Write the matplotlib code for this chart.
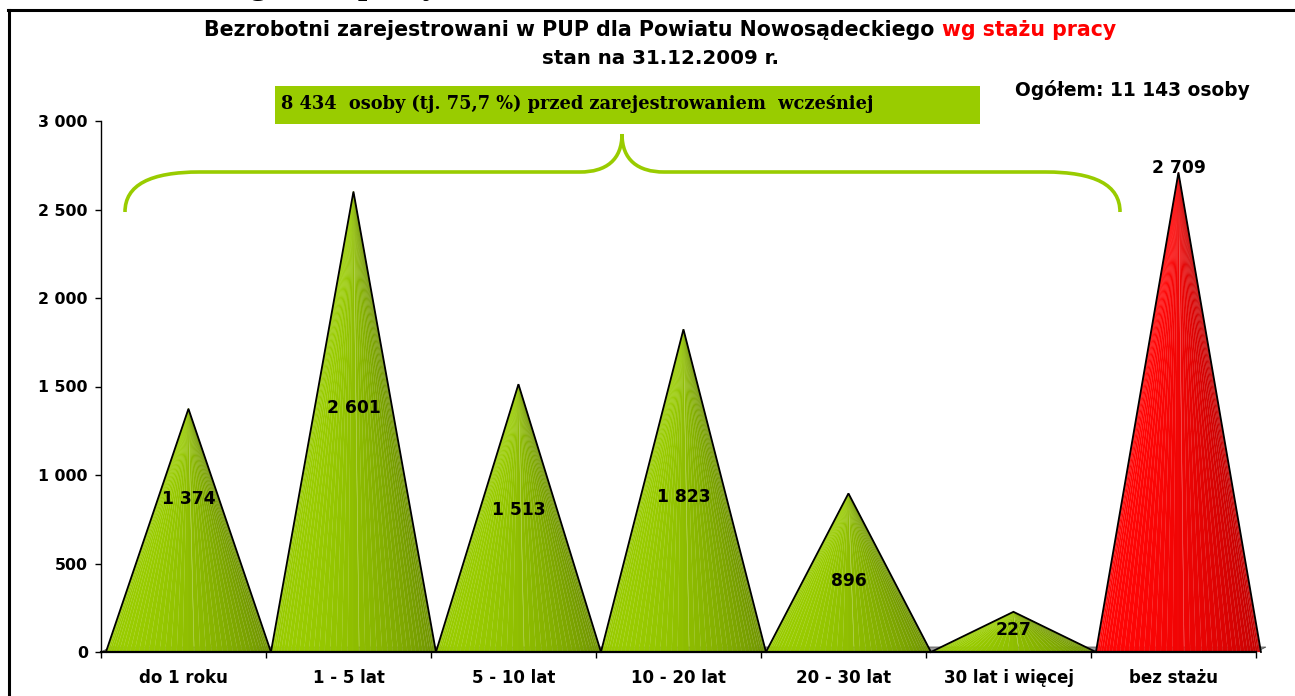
import matplotlib
matplotlib.use("Agg")
import matplotlib.pyplot as plt
import numpy as np
from matplotlib.patches import Polygon, PathPatch, Rectangle
from matplotlib.path import Path
from matplotlib.lines import Line2D

# ---------------- data ----------------
categories = ["do 1 roku", "1 - 5 lat", "5 - 10 lat", "10 - 20 lat",
              "20 - 30 lat", "30 lat i więcej", "bez stażu"]
values = [1374, 2601, 1513, 1823, 896, 227, 2709]
highlight = [False, False, False, False, False, False, True]
y_ticks = [0, 500, 1000, 1500, 2000, 2500, 3000]
title_black = "Bezrobotni zarejestrowani w PUP dla Powiatu Nowosądeckiego "
title_red = "wg stażu pracy"
subtitle = "stan na 31.12.2009 r."
total_text = "Ogółem: 11 143 osoby"
box_text = "8 434  osoby (tj. 75,7 %) przed zarejestrowaniem  wcześniej"
heading_text = "wg stażu pracy"

# ---------------- layout / style ----------------
W, H = 1295, 696
fig = plt.figure(figsize=(W / 100, H / 100), dpi=100)
fig.patch.set_facecolor("white")

def fx(x):
    return x / W

def fy(y):
    return 1 - y / H

SANS = "DejaVu Sans"
SERIF = "DejaVu Serif"
GREEN = "#99CC00"

label_frac = [0.63, 0.53, 0.53, 0.48, 0.45, 0.55, None]

ax = fig.add_axes([fx(101), fy(652), (1256 - 101) / W, (652 - 121) / H])
ax.set_xlim(0, len(categories))
ax.set_ylim(0, 3000)
ax.patch.set_alpha(0)
for s in ["top", "right"]:
    ax.spines[s].set_visible(False)
ax.spines["left"].set_linewidth(1.0)
ax.spines["bottom"].set_linewidth(1.6)
ax.spines["left"].set_zorder(5)
ax.spines["bottom"].set_zorder(5)

ax.set_yticks(y_ticks)
ax.set_yticklabels([f"{t:,}".replace(",", " ") for t in y_ticks],
                   fontfamily=SANS, fontweight="bold", fontsize=11.3)
ax.set_xticks(np.arange(len(categories) + 1))
ax.set_xticklabels([])
ax.set_xticks(np.arange(len(categories)) + 0.5, minor=True)
ax.set_xticklabels(categories, minor=True, fontfamily=SANS,
                   fontweight="bold", fontsize=12)
ax.tick_params(axis="both", which="major", length=4.5, width=1.0,
               direction="out", color="black")
ax.tick_params(axis="y", pad=5)
ax.tick_params(axis="x", which="minor", length=0, pad=12)

# floor (3D base)
dx, dy = 0.06, 28
floor = Polygon([(0, 0), (len(categories), 0), (len(categories) + dx, dy), (dx, dy)],
                closed=True, facecolor="#9a9a9a", edgecolor="#555555", lw=0.6,
                zorder=1, clip_on=False)
ax.add_patch(floor)

def draw_cone(xc, h, half, light, dark, n=44):
    phis = np.linspace(np.pi, 0, n + 1)
    xs = xc + half * np.cos(phis)
    Ld = np.array([-0.8, 0.6])
    light = np.array(light)
    dark = np.array(dark)
    for k in range(n):
        phi = 0.5 * (phis[k] + phis[k + 1])
        nrm = np.array([np.cos(phi), np.sin(phi)])
        b = 0.5 + 0.5 * float(np.dot(nrm, Ld))
        col = dark + (light - dark) * b
        edge = col + (1 - col) * 0.10
        ax.add_patch(Polygon([(xc, h), (xs[k], 0), (xs[k + 1], 0)], closed=True,
                             facecolor=col, edgecolor=edge, lw=0.2,
                             zorder=2, clip_on=False))
    ax.plot([xc - half, xc, xc + half], [0, h, 0], color="black", lw=1.3,
            zorder=2.5, clip_on=False, solid_joinstyle="miter")

offset = 0.03
for i, (v, red) in enumerate(zip(values, highlight)):
    xc = i + 0.5 + offset
    if red:
        draw_cone(xc, v, 0.5, (1.0, 0.02, 0.02), (0.72, 0.0, 0.0))
    else:
        draw_cone(xc, v, 0.5, (0.60, 0.80, 0.0), (0.40, 0.53, 0.0))
    lbl = f"{v:,}".replace(",", " ")
    fr = label_frac[i]
    if fr is None:
        ax.annotate(lbl, (xc, v), xytext=(0, 3), textcoords="offset points",
                    ha="center", va="center", fontfamily=SANS, fontweight="bold",
                    fontsize=12.3, zorder=6)
    else:
        ax.text(xc, v * fr, lbl, ha="center", va="center", fontfamily=SANS,
                fontweight="bold", fontsize=12.3, zorder=6)

# ---------------- frame ----------------
fig.add_artist(Line2D([fx(8), 1.0], [fy(10), fy(10)], transform=fig.transFigure,
                      color="black", lw=2.2))
fig.add_artist(Line2D([fx(9), fx(9)], [fy(10), 0.0], transform=fig.transFigure,
                      color="black", lw=2.2))

# heading above the frame, cropped by the picture edge as in the reference
fig.text(fx(226), fy(-6), heading_text, fontfamily="Liberation Serif",
         fontweight="bold", fontsize=24, va="baseline", ha="left")

# ---------------- titles ----------------
renderer = fig.canvas.get_renderer()
tb = fig.text(0, fy(30), title_black, fontfamily=SANS, fontweight="bold",
              fontsize=14.8, va="center", ha="left", color="black")
tr = fig.text(0, fy(30), title_red, fontfamily=SANS, fontweight="bold",
              fontsize=14.8, va="center", ha="left", color="#FF0000")
wb = tb.get_window_extent(renderer).width
wr = tr.get_window_extent(renderer).width
start = 660 - (wb + wr) / 2
tb.set_x(fx(start))
tr.set_x(fx(start + wb))

fig.text(fx(660), fy(58), subtitle, fontfamily=SANS, fontweight="bold",
         fontsize=14.3, va="center", ha="center")
fig.text(fx(1250), fy(90), total_text, fontfamily=SANS, fontweight="bold",
         fontsize=13.4, va="center", ha="right")

# green box with text
fig.add_artist(Rectangle((fx(275), fy(124)), (980 - 275) / W, (124 - 86) / H,
                         transform=fig.transFigure, facecolor=GREEN,
                         edgecolor="none"))
fig.text(fx(281), fy(104), box_text, fontfamily=SERIF, fontweight="bold",
         fontsize=12.8, va="center", ha="left")

# curly brace
pts = [(125, 212), (125, 185), (150, 172), (200, 172),
       (580, 172), (606, 172), (622, 160), (622, 134),
       (622, 160), (638, 172), (664, 172),
       (1045, 172), (1095, 172), (1120, 185), (1120, 212)]
codes = [Path.MOVETO, Path.CURVE4, Path.CURVE4, Path.CURVE4,
         Path.LINETO, Path.CURVE4, Path.CURVE4, Path.CURVE4,
         Path.CURVE4, Path.CURVE4, Path.CURVE4,
         Path.LINETO, Path.CURVE4, Path.CURVE4, Path.CURVE4]
brace = Path([(fx(x), fy(y)) for x, y in pts], codes)
fig.add_artist(PathPatch(brace, transform=fig.transFigure, facecolor="none",
                         edgecolor=GREEN, lw=2.6, capstyle="butt"))

fig.savefig("out.png", dpi=100)
